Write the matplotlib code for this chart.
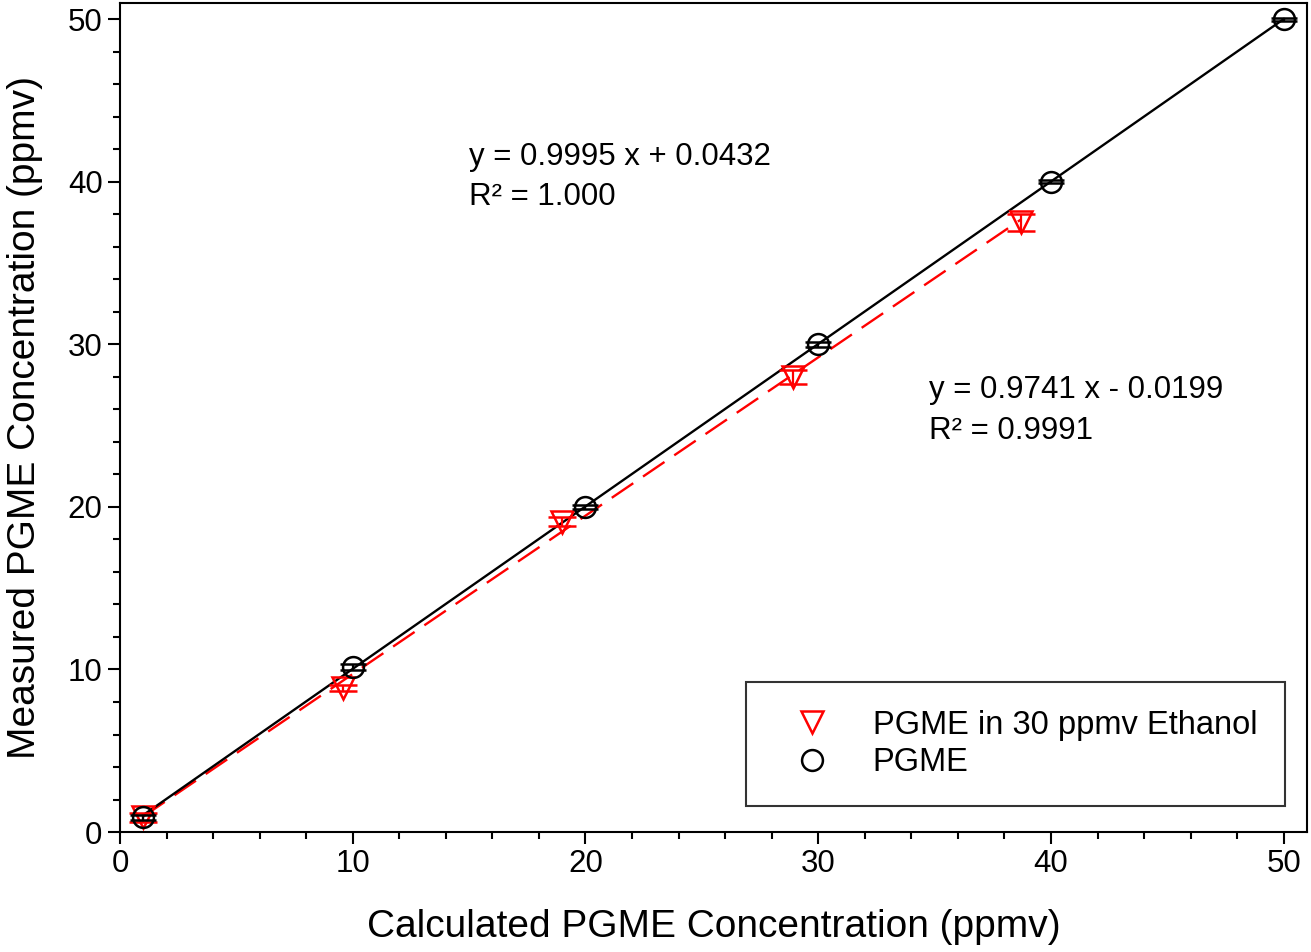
import numpy as np
from matplotlib import pyplot as plt
from matplotlib.lines import Line2D
from matplotlib.ticker import MultipleLocator

plt.rcParams["font.family"] = ["Liberation Sans", "DejaVu Sans"]

# PGME alone
pgme_x = [1.0, 10.0, 20.0, 30.0, 40.0, 50.0]
pgme_y = [0.92, 10.15, 20.0, 30.0, 40.0, 50.0]
pgme_err = [0.15, 0.2, 0.1, 0.15, 0.1, 0.1]

# PGME in 30 ppmv ethanol
eth_x = [1.0, 9.6, 19.0, 28.9, 38.7]
eth_y = [0.9, 8.85, 19.1, 28.0, 37.5]
eth_err = [0.3, 0.2, 0.3, 0.43, 0.55]

# linear fits
pgme_fit = (0.9995, 0.0432)
eth_fit = (0.9741, -0.0199)

fig = plt.figure(figsize=(13.11, 9.52), dpi=100)
ax = fig.add_axes([0.0915, 0.126, 0.9055, 0.8708])

fx = np.array([pgme_x[0], pgme_x[-1]])
ax.plot(fx, pgme_fit[0] * fx + pgme_fit[1], color="black", lw=1.7, zorder=3)
ex = np.array([eth_x[0], eth_x[-1]])
ax.plot(ex, eth_fit[0] * ex + eth_fit[1], color="red", lw=1.7,
        dashes=(11, 5), zorder=2)

ax.errorbar(eth_x, eth_y, yerr=eth_err, fmt="v", ms=16, mfc="none", mec="red",
            mew=1.8, ecolor="red", elinewidth=1.6, capsize=10, capthick=2.0, zorder=4)
ax.errorbar(pgme_x, pgme_y, yerr=pgme_err, fmt="o", ms=15, mfc="none", mec="black",
            mew=1.8, ecolor="black", elinewidth=1.6, capsize=9.5, capthick=2.2, zorder=5)

ax.text(15.0, 41.5, "y = 0.9995 x + 0.0432", fontsize=22.5, va="center", ha="left")
ax.text(15.0, 39.05, "R² = 1.000", fontsize=22.5, va="center", ha="left")
ax.text(34.75, 27.2, "y = 0.9741 x - 0.0199", fontsize=22.5, va="center", ha="left")
ax.text(34.75, 24.7, "R² = 0.9991", fontsize=22.5, va="center", ha="left")

ax.set_xlim(0, 51)
ax.set_ylim(0, 51)
ax.xaxis.set_major_locator(MultipleLocator(10))
ax.yaxis.set_major_locator(MultipleLocator(10))
ax.xaxis.set_minor_locator(MultipleLocator(2))
ax.yaxis.set_minor_locator(MultipleLocator(2))
ax.tick_params(which="major", direction="out", length=8.5, width=1.5,
               labelsize=22.5, pad=4)
ax.tick_params(which="minor", direction="out", length=5, width=1.5)
for sp in ax.spines.values():
    sp.set_linewidth(1.5)

ax.set_xlabel("Calculated PGME Concentration (ppmv)", fontsize=28, labelpad=21)
ax.set_ylabel("Measured PGME Concentration (ppmv)", fontsize=28, labelpad=18)

handles = [
    Line2D([], [], ls="none", marker="v", ms=16, mfc="none", mec="red", mew=1.8),
    Line2D([], [], ls="none", marker="o", ms=15, mfc="none", mec="black", mew=1.8),
]
leg = ax.legend(handles, ["PGME in 30 ppmv Ethanol", "PGME"], loc="lower right",
                bbox_to_anchor=(0.9815, 0.0314), borderaxespad=0, fontsize=23.5,
                frameon=True, fancybox=False, borderpad=0.85, handlelength=2.4,
                handletextpad=0.65, labelspacing=0.2)
leg.get_frame().set_edgecolor("black")
leg.get_frame().set_linewidth(1.5)

plt.savefig("out.png", dpi=100)
